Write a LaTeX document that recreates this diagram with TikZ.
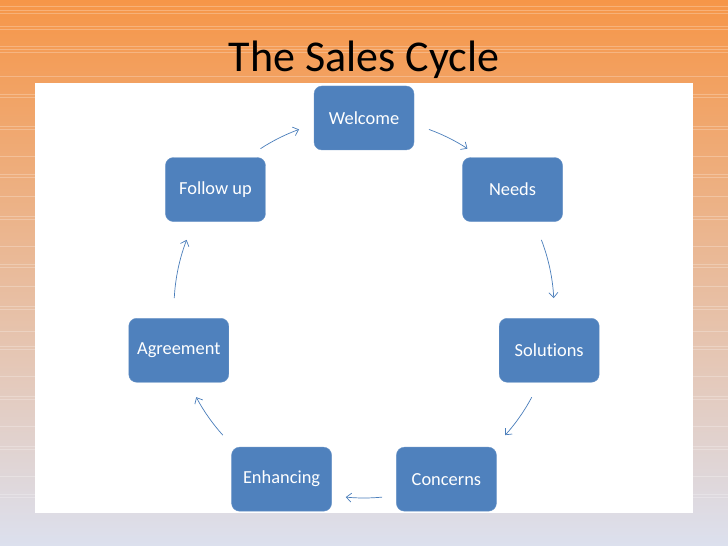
\documentclass[tikz,border=0pt]{standalone}
\usepackage{fontspec}
\setmainfont{Carlito}[Ligatures=NoCommon]
\usetikzlibrary{arrows.meta}
\definecolor{boxblue}{RGB}{79,129,189}
\definecolor{arcblue}{RGB}{74,126,187}
\definecolor{toporange}{RGB}{246,150,72}
\definecolor{midpeach}{RGB}{234,184,146}
\definecolor{lowgrey}{RGB}{220,224,238}
\begin{document}
\begin{tikzpicture}[x=1pt, y=1pt,
    stage/.style={draw=boxblue!85!white, fill=boxblue, rounded corners=8pt,
      minimum width=100pt, minimum height=64pt, text=white,
      font=\fontsize{18.4}{20}\selectfont},
    cyc/.style={draw=arcblue, line width=0.7pt,
      -{Straight Barb[length=5pt, width=9pt]}}]
  \useasboundingbox (0,0) rectangle (728,546);
  \shade[top color=toporange, middle color=midpeach, bottom color=lowgrey] (0,0) rectangle (728,546);
  \foreach \y in {540,536,533,520,517,500,497,494,470,452,449,420,417,390,372,369,350,330,327,300,282,279,260,240,237,215,200,197,170,150,147,120,100,97,70,52,49}
    \draw[white, opacity=0.25, line width=0.6pt] (0,\y) -- (728,\y);
  \fill[white] (35,33) rectangle (693,463);

  \node (title) at (364,486) {\fontsize{44}{48}\selectfont The Sales Cycle};

  \coordinate (hub) at (364,238);
  \node[stage] (welcome)   at ([shift={(90:190)}]hub)      {Welcome};
  \node[stage] (needs)     at ([shift={(38.57:190)}]hub)   {Needs};
  \node[stage] (solutions) at ([shift={(-12.86:190)}]hub)  {Solutions};
  \node[stage] (concerns)  at ([shift={(-64.29:190)}]hub)  {Concerns};
  \node[stage] (enhancing) at ([shift={(-115.71:190)}]hub) {Enhancing};
  \node[stage] (agreement) at ([shift={(-167.14:190)}]hub) {Agreement};
  \node[stage] (followup)  at ([shift={(141.43:190)}]hub)  {Follow up};

  \draw[cyc] ([shift={(70:190)}]hub) arc[start angle=70, end angle=57, radius=190];
  \draw[cyc] ([shift={(21:190)}]hub) arc[start angle=21, end angle=3, radius=190];
  \draw[cyc] ([shift={(-28:190)}]hub) arc[start angle=-28, end angle=-42, radius=190];
  \draw[cyc] ([shift={(-84.5:190)}]hub) arc[start angle=-84.5, end angle=-95.5, radius=190];
  \draw[cyc] ([shift={(-138:190)}]hub) arc[start angle=-138, end angle=-152, radius=190];
  \draw[cyc] ([shift={(177:190)}]hub) arc[start angle=177, end angle=159, radius=190];
  \draw[cyc] ([shift={(123:190)}]hub) arc[start angle=123, end angle=110, radius=190];
\end{tikzpicture}
\end{document}
